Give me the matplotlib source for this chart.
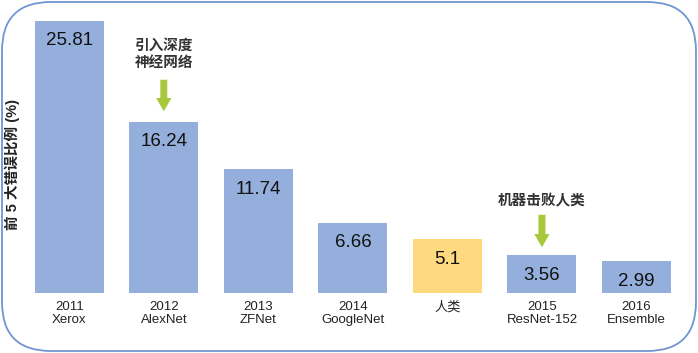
import numpy as np
import matplotlib.pyplot as plt
from matplotlib.patches import FancyBboxPatch

years  = ['2011', '2012', '2013', '2014', '', '2015', '2016']
models = ['Xerox', 'AlexNet', 'ZFNet', 'GoogleNet', '人类', 'ResNet-152', 'Ensemble']
errors = [25.81, 16.24, 11.74, 6.66, 5.1, 3.56, 2.99]
colors = ['#94AFDB', '#94AFDB', '#94AFDB', '#94AFDB', '#FFD97F', '#94AFDB', '#94AFDB']

plt.rcParams['font.family'] = ['Liberation Sans', 'Noto Sans CJK SC', 'DejaVu Sans']

fig = plt.figure(figsize=(6.98, 3.53), dpi=100)
ax = fig.add_axes([22/698, (353-293)/353, (683.75-22)/698, 290/353])

x = np.arange(len(errors))
bars = ax.bar(x, errors, 0.73, color=colors, edgecolor='none')

ax.set_xlim(-0.5, 6.5)
ax.set_ylim(0, 27.5)
for s in ax.spines.values():
    s.set_visible(False)
ax.set_yticks([])

labels = [(y + '\n' + m) if y else m for y, m in zip(years, models)]
ax.set_xticks(x)
ax.set_xticklabels(labels, fontsize=9.5, linespacing=1.1, va='top', color='#222222')
ax.tick_params(axis='x', length=0, pad=6)

# values inside the bars
for b, v in zip(bars, errors):
    ax.annotate('%g' % v, (b.get_x() + b.get_width()/2, v),
                xytext=(0, -14.5), textcoords='offset points',
                ha='center', va='center', fontsize=13.5, color='#111111')

fig.text(12/698, 1 - 164/353, '前 5 大错误比例 (%)', rotation=90,
         ha='center', va='center', fontsize=10.5, fontweight='bold', color='#222222')

# annotations with green arrows
green = '#A6C83A'
def note(i, text, ytext, ytop, ybot):
    ax.text(i, ytext, text, ha='center', va='center', fontsize=10.5,
            fontweight='bold', linespacing=1.3, color='#333333')
    ax.annotate('', xy=(i, ybot), xytext=(i, ytop),
                arrowprops=dict(arrowstyle='simple,head_width=1.1,head_length=0.95,tail_width=0.5',
                                color=green, lw=0))

note(1, '引入深度\n神经网络', (293-54.5)/10.545, (293-77)/10.545, (293-114)/10.545)
note(5, '机器击败人类', (293-201)/10.545, (293-212)/10.545, (293-250)/10.545)

# rounded frame
frame = FancyBboxPatch((2/698, 2/353), 694/698, 349/353,
                       boxstyle='round,pad=0,rounding_size=0.07',
                       transform=fig.transFigure, fill=False,
                       edgecolor='#6F95D2', lw=1.3, mutation_aspect=698/353)
fig.patches.append(frame)

fig.savefig('out.png', dpi=100)
